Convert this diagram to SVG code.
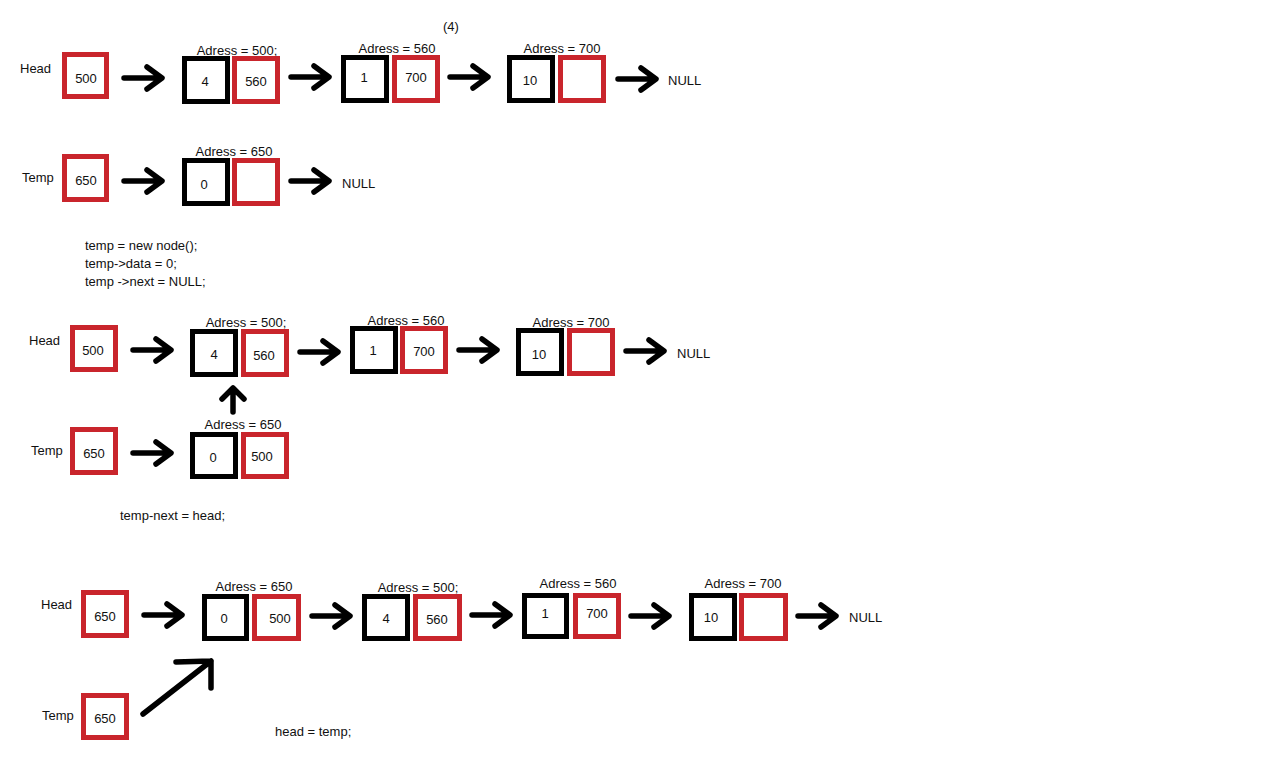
<svg xmlns="http://www.w3.org/2000/svg" xmlns:xlink="http://www.w3.org/1999/xlink" width="1264" height="777" viewBox="0 0 1264 777">
<style>
text{font-family:"Liberation Sans",Arial,sans-serif;font-size:13px;fill:#111}
.m{text-anchor:middle}
.b{fill:none;stroke:#000;stroke-width:5}
.r{fill:none;stroke:#c9252c;stroke-width:5}
.c{fill:none;stroke:#000;stroke-width:5.5;stroke-linecap:round;stroke-linejoin:round}
</style>
<defs>
<path id="arr" class="c" d="M0,0 H37 M23,-11 L38,0 L23,11"/>
</defs>
<rect width="1264" height="777" fill="#fff"/>

<!-- Step 1 -->
<text x="443" y="31">(4)</text>
<g id="head1"><text x="20" y="73">Head</text><rect class="r" x="64.5" y="54.5" width="42" height="42"/><text class="m" x="86" y="83">500</text></g>
<g id="n1a"><text class="m" x="237" y="55">Adress = 500;</text><rect class="b" x="184.5" y="58.5" width="43" height="43"/><rect class="r" x="234.5" y="58.5" width="43" height="43"/><text class="m" x="205" y="86">4</text><text class="m" x="256" y="86">560</text></g>
<g id="n1b"><text class="m" x="397" y="53">Adress = 560</text><rect class="b" x="343.5" y="57.5" width="43" height="43"/><rect class="r" x="394.5" y="57.5" width="43" height="43"/><text class="m" x="364" y="82">1</text><text class="m" x="416" y="82">700</text></g>
<g id="n1c"><text class="m" x="562" y="53">Adress = 700</text><rect class="b" x="509.5" y="57.5" width="43" height="43"/><rect class="r" x="560.5" y="57.5" width="43" height="43"/><text class="m" x="530" y="85">10</text></g>
<g id="null1"><text x="668" y="85">NULL</text></g>

<g id="temp1"><text x="22" y="182">Temp</text><rect class="r" x="64.5" y="156.5" width="42" height="43"/><text class="m" x="86" y="185">650</text></g>
<g id="n2a"><text class="m" x="234" y="156">Adress = 650</text><rect class="b" x="184.5" y="160.5" width="43" height="43"/><rect class="r" x="234.5" y="160.5" width="43" height="43"/><text class="m" x="204" y="189">0</text></g>
<g id="null2"><text x="342" y="188">NULL</text></g>
<g id="code1"><text x="85" y="250">temp = new node();</text><text x="85" y="268">temp-&gt;data = 0;</text><text x="85" y="286">temp -&gt;next = NULL;</text></g>

<!-- Step 2 -->
<g id="head3"><text x="29" y="345">Head</text><rect class="r" x="72.5" y="327.5" width="43" height="42"/><text class="m" x="93" y="355">500</text></g>
<g id="n3a"><text class="m" x="246" y="327">Adress = 500;</text><rect class="b" x="192.5" y="331.5" width="43" height="43"/><rect class="r" x="243.5" y="331.5" width="43" height="43"/><text class="m" x="214" y="359">4</text><text class="m" x="264" y="360">560</text></g>
<g id="n3b"><text class="m" x="406" y="325">Adress = 560</text><rect class="b" x="352.5" y="328.5" width="43" height="43"/><rect class="r" x="402.5" y="328.5" width="43" height="43"/><text class="m" x="373" y="355">1</text><text class="m" x="424" y="356">700</text></g>
<g id="n3c"><text class="m" x="571" y="327">Adress = 700</text><rect class="b" x="518.5" y="330.5" width="43" height="43"/><rect class="r" x="569.5" y="330.5" width="43" height="43"/><text class="m" x="539" y="359">10</text></g>
<g id="null3"><text x="677" y="358">NULL</text></g>
<g id="temp3"><text x="31" y="455">Temp</text><rect class="r" x="72.5" y="429.5" width="43" height="43"/><text class="m" x="94" y="458">650</text></g>
<g id="n4a"><text class="m" x="243" y="429">Adress = 650</text><rect class="b" x="192.5" y="434.5" width="43" height="42"/><rect class="r" x="243.5" y="434.5" width="43" height="42"/><text class="m" x="213" y="462">0</text><text class="m" x="262" y="461">500</text></g>
<g id="code2"><text x="120" y="520">temp-next = head;</text></g>

<!-- Step 3 -->
<g id="head5"><text x="41" y="609">Head</text><rect class="r" x="83.5" y="592.5" width="43" height="43"/><text class="m" x="105" y="621">650</text></g>
<g id="n5a"><text class="m" x="254" y="591">Adress = 650</text><rect class="b" x="204.5" y="596.5" width="42" height="42"/><rect class="r" x="254.5" y="596.5" width="44" height="42"/><text class="m" x="224" y="623">0</text><text class="m" x="280" y="623">500</text></g>
<g id="n5b"><text class="m" x="418" y="592">Adress = 500;</text><rect class="b" x="364.5" y="596.5" width="43" height="42"/><rect class="r" x="415.5" y="596.5" width="44" height="42"/><text class="m" x="386" y="623">4</text><text class="m" x="437" y="624">560</text></g>
<g id="n5c"><text class="m" x="578" y="588">Adress = 560</text><rect class="b" x="524.5" y="595.5" width="42" height="41"/><rect class="r" x="575.5" y="595.5" width="43" height="41"/><text class="m" x="545" y="618">1</text><text class="m" x="597" y="618">700</text></g>
<g id="n5d"><text class="m" x="743" y="588">Adress = 700</text><rect class="b" x="691.5" y="595.5" width="43" height="43"/><rect class="r" x="741.5" y="595.5" width="44" height="43"/><text class="m" x="711" y="622">10</text></g>
<g id="null5"><text x="849" y="622">NULL</text></g>
<g id="temp5"><text x="42" y="720">Temp</text><rect class="r" x="83.5" y="695.5" width="43" height="42"/><text class="m" x="105" y="723">650</text></g>
<g id="code3"><text x="275" y="736">head = temp;</text></g>

<g id="connectors">
<use xlink:href="#arr" x="124" y="78"/>
<use xlink:href="#arr" x="291" y="77"/>
<use xlink:href="#arr" x="450" y="77"/>
<use xlink:href="#arr" x="618" y="79"/>
<use xlink:href="#arr" x="124" y="181"/>
<use xlink:href="#arr" x="291" y="181"/>
<use xlink:href="#arr" x="133" y="350"/>
<use xlink:href="#arr" x="300" y="352"/>
<use xlink:href="#arr" x="459" y="350"/>
<use xlink:href="#arr" x="626" y="351"/>
<use xlink:href="#arr" x="133" y="453"/>
<path class="c" d="M233,412 V389 M222,399 L233,388 L244,399"/>
<use xlink:href="#arr" x="144" y="615"/>
<use xlink:href="#arr" x="312" y="616"/>
<use xlink:href="#arr" x="472" y="615"/>
<use xlink:href="#arr" x="631" y="616"/>
<use xlink:href="#arr" x="798" y="616"/>
<path class="c" d="M143,714 L211,661 M176,662 L211,661 L211,688"/>
</g>
</svg>
